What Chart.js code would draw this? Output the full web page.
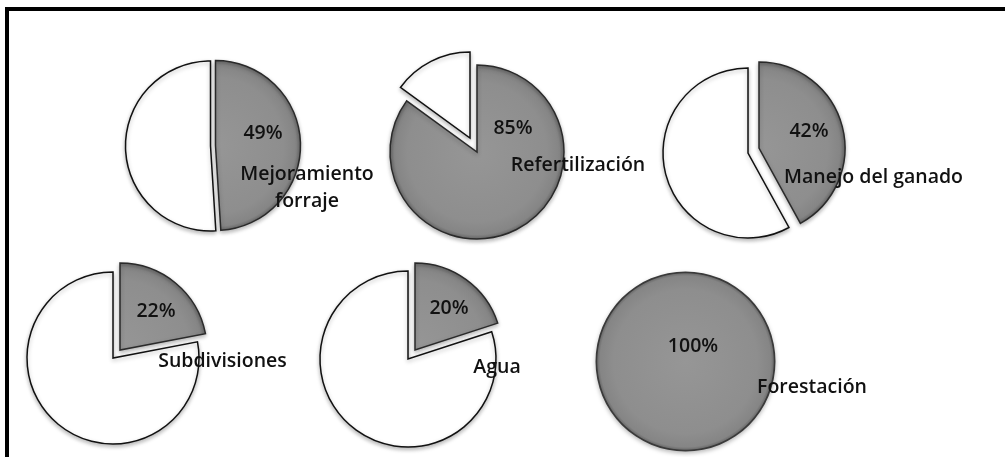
<!DOCTYPE html>
<html><head><meta charset="utf-8">
<script src="https://cdn.jsdelivr.net/npm/chart.js@4.4.0/dist/chart.umd.min.js"></script>
<style>
html,body{margin:0;padding:0;background:#fff;width:1005px;height:457px;overflow:hidden}
#wrap{position:relative;width:1005px;height:457px}
#frame{position:absolute;left:5px;top:7px;width:1010px;height:460px;border-top:4px solid #000;border-left:4px solid #000;box-sizing:border-box}
canvas{position:absolute;left:0;top:0}
</style></head><body><div id="wrap"><div id="frame"></div></div>
<script>
// ---- data ----
const categories = [['Mejoramiento','forraje'], ['Refertilización'], ['Manejo del ganado'], ['Subdivisiones'], ['Agua'], ['Forestación']];
const adoptedPct = [49, 85, 42, 22, 20, 100];
const restPct = [51, 15, 58, 78, 80, 0];

// ---- layout (positions only) ----
const W = 1005, H = 457;
const greyCenter = [[215.5,145.5],[477,152],[759,148],[120,350],[415,350],[685.5,361.5]];
const greyRadius = [85,87,86,87,87,90];
const whiteCenter = [[210.5,146],[470,138],[748,153],[113,358],[408,359],[685.5,361.5]];
const whiteRadius = [85,86,85,86,88,89];
const pctPos = [[263,139],[513,134],[809,137],[156,317],[449,314],[693,352]];
const namePos = [[307,180],[578,171],[873.5,182.7],[222.5,367],[497,373],[812,393]];
const lineGap = 27;
const labelFont = '600 19.5px "Open Sans"';

const wrap = document.getElementById('wrap');

function padFor(c){
  const [cx,cy]=c;
  const h=Math.min(cx, W-cx, cy, H-cy);
  return {left:cx-h, right:W-cx-h, top:cy-h, bottom:H-cy-h};
}

const labelPlugin = {
  id:'labels',
  afterDraw(chart, args, opts){
    if(!opts.show) return;
    const i = opts.index;
    const ctx = chart.ctx;
    ctx.save();
    ctx.fillStyle = '#111';
    ctx.font = labelFont;
    ctx.textAlign = 'center';
    ctx.textBaseline = 'alphabetic';
    ctx.fillText(adoptedPct[i] + '%', pctPos[i][0], pctPos[i][1]);
    categories[i].forEach((line, k) => {
      ctx.fillText(line, namePos[i][0], namePos[i][1] + k*lineGap);
    });
    ctx.restore();
  }
};

const shadowPlugin = {
  id:'shade',
  beforeDatasetsDraw(chart){
    const c=chart.ctx; c.save();
    c.shadowColor='rgba(0,0,0,0.28)'; c.shadowBlur=4; c.shadowOffsetY=2;
  },
  afterDatasetsDraw(chart){ chart.ctx.restore(); }
};

function makeLayer(i, which){
  const cv = document.createElement('canvas');
  cv.width = W; cv.height = H;
  wrap.appendChild(cv);
  const center = which===0 ? greyCenter[i] : whiteCenter[i];
  const R = which===0 ? greyRadius[i] : whiteRadius[i];
  const full = adoptedPct[i] >= 100;
  new Chart(cv, {
    type:'pie',
    data:{ labels:['Sí','No'], datasets:[{
      data:[adoptedPct[i], restPct[i]],
      radius:R,
      backgroundColor:(ctx)=>{
        if(ctx.dataIndex!==which) return 'rgba(0,0,0,0)';
        if(which===1) return '#ffffff';
        const g = ctx.chart.ctx.createRadialGradient(center[0],center[1],0,center[0],center[1],R);
        g.addColorStop(0,'#969696'); g.addColorStop(0.8,'#8e8e8e');
        if(full){
          g.addColorStop(0.95,'#858585'); g.addColorStop(0.975,'#707070');
          g.addColorStop(0.985,'#3a3a3a'); g.addColorStop(1,'#3a3a3a');
        } else {
          g.addColorStop(0.95,'#858585'); g.addColorStop(1,'#6a6a6a');
        }
        return g;
      },
      borderColor:(ctx)=> ctx.dataIndex===which ? (which===0?'#2a2a2a':'#111') : 'rgba(0,0,0,0)',
      borderWidth:(ctx)=> (ctx.dataIndex===which && !(full && which===0)) ? 1.5 : 0,
      borderJoinStyle:'miter'
    }]},
    options:{
      responsive:false, animation:false, events:[],
      layout:{padding:padFor(center)},
      plugins:{legend:{display:false}, tooltip:{enabled:false},
        labels:{show: which===1, index:i}}
    },
    plugins:[shadowPlugin, labelPlugin]
  });
}
for(let i=0;i<adoptedPct.length;i++){ makeLayer(i,0); makeLayer(i,1); }
</script></body></html>
